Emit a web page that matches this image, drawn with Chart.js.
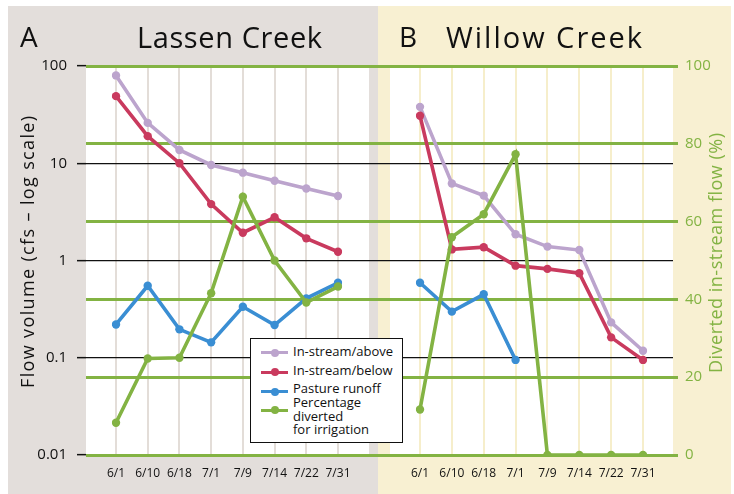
<!DOCTYPE html>
<html>
<head>
<meta charset="utf-8">
<script src="https://cdn.jsdelivr.net/npm/chart.js@4/dist/chart.umd.min.js"></script>
<style>
  html, body { margin: 0; padding: 0; background: #ffffff; }
  #wrap { position: relative; width: 734px; height: 494px; overflow: hidden; font-family: "Open Sans", "Noto Sans", sans-serif; }
  .panel { position: absolute; top: 6px; height: 488px; }
  #panelA { left: 8px; width: 370px; background: #e3dedb; }
  #panelB { left: 378px; width: 353px; background: #f8f0d2; }
  #chart { position: absolute; left: 0; top: 0; }
  .ttl { position: absolute; font-size: 28px; line-height: 28px; color: #111; white-space: nowrap; }
  .big { font-size: 29px; line-height: 29px; }
  .atitle { position: absolute; font-size: 18px; line-height: 18px; white-space: nowrap; transform-origin: 0 0; }
  #legend { position: absolute; left: 250px; top: 338px; width: 153px; height: 105px; box-sizing: border-box; border: 1px solid #111; background: #fff; }
  .lline { position: absolute; left: 10px; width: 27px; height: 3px; }
  .ldot { position: absolute; left: 19.5px; width: 8px; height: 8px; border-radius: 50%; }
  .ltext { position: absolute; left: 42px; font-size: 13px; line-height: 13.3px; color: #111; white-space: pre; }
</style>
</head>
<body>
<div id="wrap">
  <div class="panel" id="panelA"></div>
  <div class="panel" id="panelB"></div>
  <canvas id="chart" width="734" height="494"></canvas>
  <div class="ttl" id="tA" style="left:20px; top:22px;"></div>
  <div class="ttl big" id="tAname" style="left:137px; top:21.5px;"></div>
  <div class="ttl" id="tB" style="left:399px; top:22px;"></div>
  <div class="ttl big" id="tBname" style="left:446px; top:21.5px;"></div>
  <div class="atitle" id="yTitleL" style="color:#111;"></div>
  <div class="atitle" id="yTitleR" style="color:#83b343;"></div>
  <div id="legend"></div>
</div>
<script>
// ---- data ----
const categories = ['6/1', '6/10', '6/18', '7/1', '7/9', '7/14', '7/22', '7/31'];
const panelLetters = ['A', 'B'];
const panelNames = ['Lassen Creek', 'Willow Creek'];
const seriesNames = ['In-stream/above', 'In-stream/below', 'Pasture runoff', 'Percentage\ndiverted\nfor irrigation'];
const seriesColors = ['#bca4cd', '#c93a5e', '#3a8ed3', '#83b343'];

// Lassen Creek (A): flow in cfs, diverted in %
const lassenAbove    = [80, 26, 13.7, 9.6, 8.0, 6.6, 5.5, 4.6];
const lassenBelow    = [49, 19, 10, 3.8, 1.93, 2.78, 1.69, 1.23];
const lassenRunoff   = [0.22, 0.55, 0.196, 0.144, 0.335, 0.217, 0.408, 0.59];
const lassenDiverted = [8.3, 24.8, 25, 41.6, 66.4, 50, 39.2, 43.3];

// Willow Creek (B)
const willowAbove    = [38, 6.2, 4.65, 1.86, 1.39, 1.28, 0.231, 0.118];
const willowBelow    = [30.8, 1.3, 1.37, 0.885, 0.82, 0.74, 0.162, 0.095];
const willowRunoff   = [0.59, 0.298, 0.449, 0.095, null, null, null, null];
const willowDiverted = [11.7, 56, 61.9, 77.3, 0, 0, 0, 0];

// axis ticks and titles
const logTicks = [0.01, 0.1, 1, 10, 100];
const logTickLabels = ['0.01', '0.1', '1', '10', '100'];
const pctTicks = [0, 20, 40, 60, 80, 100];
const leftAxisTitle = 'Flow volume (cfs \u2013 log scale)';
const rightAxisTitle = 'Diverted in-stream flow (%)';

// ---- styling ----
const GREEN = '#83b343';
const FONT = '"Open Sans", "Noto Sans", sans-serif';

// stretch text (letter-spacing) to a target length, like the wider original typeface
const mctx = document.createElement('canvas').getContext('2d');
function fitText(el, text, sizePx, targetLen) {
  mctx.font = sizePx + 'px ' + FONT;
  const w = mctx.measureText(text).width;
  const ls = (targetLen - w) / Math.max(1, text.length - 1);
  el.textContent = text;
  el.style.letterSpacing = ls.toFixed(2) + 'px';
  return w + ls * (text.length - 1);
}

document.getElementById('tA').textContent = panelLetters[0];
document.getElementById('tB').textContent = panelLetters[1];
fitText(document.getElementById('tAname'), panelNames[0], 29, 185);
fitText(document.getElementById('tBname'), panelNames[1], 29, 196);

function placeVTitle(el, text, cx, cy, len) {
  fitText(el, text, 18, len);
  el.style.left = (cx - 9) + 'px';
  el.style.top = (cy + len / 2) + 'px';
  el.style.transform = 'rotate(-90deg)';
}
placeVTitle(document.getElementById('yTitleL'), leftAxisTitle, 27, 252, 272);
placeVTitle(document.getElementById('yTitleR'), rightAxisTitle, 715, 252.5, 240);

function ds(label, data, color, xAxisID, yAxisID, order) {
  return {
    label, data, xAxisID, yAxisID, order,
    borderColor: color, backgroundColor: color,
    pointBackgroundColor: color, pointBorderWidth: 0,
    pointRadius: 4.2, borderWidth: 3.6, tension: 0, spanGaps: false
  };
}

const datasets = [
  ds(seriesNames[0], lassenAbove, seriesColors[0], 'xA', 'y', 4),
  ds(seriesNames[1], lassenBelow, seriesColors[1], 'xA', 'y', 3),
  ds(seriesNames[2], lassenRunoff, seriesColors[2], 'xA', 'y', 2),
  ds(seriesNames[3], lassenDiverted, seriesColors[3], 'xA', 'y2', 1),
  ds(seriesNames[0], willowAbove, seriesColors[0], 'xB', 'y', 4),
  ds(seriesNames[1], willowBelow, seriesColors[1], 'xB', 'y', 3),
  ds(seriesNames[2], willowRunoff, seriesColors[2], 'xB', 'y', 2),
  ds(seriesNames[3], willowDiverted, seriesColors[3], 'xB', 'y2', 1)
];

const X_AXIS_H = 39;
function pad(weight) {
  return { type: 'linear', position: 'bottom', stack: 'panels', stackWeight: weight, display: false, min: 0, max: 1,
           afterFit: s => { s.height = X_AXIS_H; } };
}
function catAxis(weight, gridColor) {
  return {
    type: 'category', labels: categories, position: 'bottom', stack: 'panels', stackWeight: weight,
    offset: false,
    grid: { color: gridColor, lineWidth: 2, drawTicks: false },
    border: { display: false },
    ticks: { maxRotation: 0, minRotation: 0, autoSkip: false, padding: 11, color: '#111', font: { family: FONT, size: 12 } },
    afterFit: s => { s.height = X_AXIS_H; }
  };
}

const plotBg = {
  id: 'plotBg',
  beforeDraw(chart) {
    const { ctx, chartArea, scales } = chart;
    ctx.save();
    ctx.fillStyle = '#ffffff';
    const h = chartArea.bottom - chartArea.top;
    ctx.fillRect(scales.xPadL.left, chartArea.top, scales.xPadA.right - scales.xPadL.left, h);
    ctx.fillRect(scales.xPadB.left, chartArea.top, scales.xPadR.right - scales.xPadB.left, h);
    ctx.restore();
  }
};

Chart.defaults.font.family = FONT;

const chart = new Chart(document.getElementById('chart'), {
  type: 'line',
  data: { datasets },
  options: {
    responsive: false,
    animation: false,
    devicePixelRatio: 1,
    layout: { padding: { top: 66, left: 0, right: 0, bottom: 0 } },
    plugins: { legend: { display: false }, tooltip: { enabled: false }, title: { display: false } },
    scales: {
      xPadL: pad(30),
      xA: catAxis(222, '#e3ddd8'),
      xPadA: pad(31),
      xStrip: pad(21),
      xPadB: pad(30),
      xB: catAxis(223, '#f6eecb'),
      xPadR: pad(30),
      y: {
        type: 'logarithmic', position: 'left', min: 0.01, max: 100,
        afterBuildTicks: s => { s.ticks = logTicks.map(v => ({ value: v, major: true })); },
        ticks: { padding: 10, color: '#111', font: { family: FONT, size: 15 },
                 callback: (v, i) => logTickLabels[i] },
        grid: { color: '#111', lineWidth: 1.3, tickLength: 9, tickColor: '#111', tickWidth: 1.5 },
        border: { display: false },
        afterFit: s => { s.width = 86; }
      },
      y2: {
        type: 'linear', position: 'right', min: 0, max: 100,
        afterBuildTicks: s => { s.ticks = pctTicks.map(v => ({ value: v })); },
        ticks: { padding: 7, color: GREEN, font: { family: FONT, size: 15 } },
        grid: { color: GREEN, lineWidth: 3, tickLength: 5, tickColor: GREEN },
        border: { display: false },
        afterFit: s => { s.width = 61; }
      }
    }
  },
  plugins: [plotBg]
});

// ---- legend (HTML, built from the series) ----
const legend = document.getElementById('legend');
const rowTextTop = [6, 25.3, 42.5, 57.3];
const rowMarkerY = [13.7, 33.3, 52.7, 71];
seriesNames.forEach((name, i) => {
  const line = document.createElement('div');
  line.className = 'lline';
  line.style.top = (rowMarkerY[i] - 1.5) + 'px';
  line.style.background = seriesColors[i];
  const dot = document.createElement('div');
  dot.className = 'ldot';
  dot.style.top = (rowMarkerY[i] - 4) + 'px';
  dot.style.background = seriesColors[i];
  const txt = document.createElement('div');
  txt.className = 'ltext';
  txt.style.top = rowTextTop[i] + 'px';
  txt.textContent = name;
  legend.appendChild(line);
  legend.appendChild(dot);
  legend.appendChild(txt);
});
</script>
</body>
</html>
